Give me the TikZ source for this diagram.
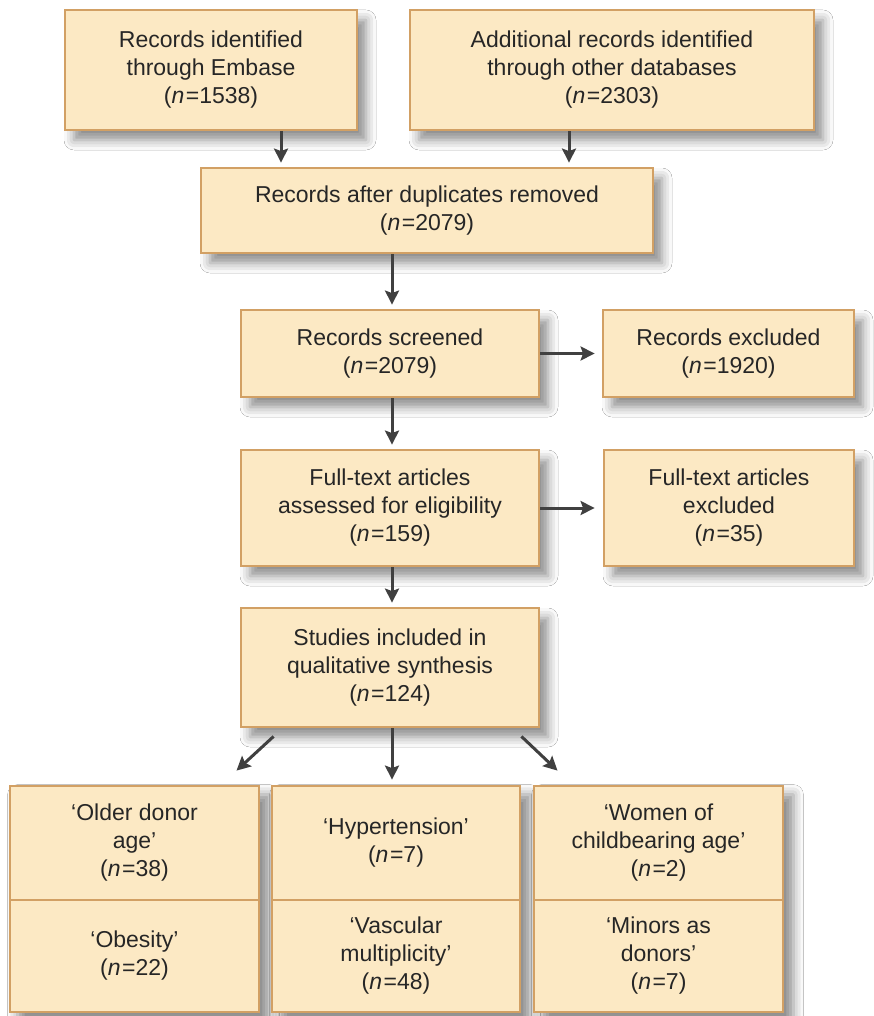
\documentclass[tikz,border=0pt]{standalone}
\usepackage{fontspec}
\setmainfont{Liberation Sans}
\usepackage{tikz}
\usetikzlibrary{arrows.meta,shadows.blur,backgrounds}

\definecolor{boxfill}{RGB}{252,233,196}
\definecolor{boxline}{RGB}{210,160,100}
\definecolor{arrgray}{RGB}{64,64,64}

\newcommand{\nval}[1]{(\textit{n}\kern1.5pt=#1)}

\begin{document}
\begin{tikzpicture}[x=1pt,y=1pt,
    soft shadow/.style={blur shadow={shadow xshift=9pt,shadow yshift=-10pt,shadow blur radius=10pt,shadow opacity=45}},
    cell/.style={draw=boxline,fill=boxfill,line width=2.8pt,align=center,
        inner sep=0pt,font=\fontsize{23}{28}\selectfont,text=black!85},
    box/.style={cell,soft shadow},
    arr/.style={draw=arrgray,line width=3pt,-{Stealth[length=14pt,width=14pt,inset=2.5pt]}}]
        \useasboundingbox (0,0) rectangle (874,-1016);

        % identification
        \node[box,minimum width=292pt,minimum height=120pt] (emb) at (211,-70)
            {Records identified\\through Embase\\\nval{1538}};
        \node[box,minimum width=404pt,minimum height=120pt] (oth) at (612,-70)
            {Additional records identified\\through other databases\\\nval{2303}};
        \node[box,minimum width=452pt,minimum height=85pt] (dup) at (427,-210.5)
            {Records after duplicates removed\\\nval{2079}};

        % screening
        \node[box,minimum width=298pt,minimum height=87pt] (scr) at (390,-353.5)
            {Records screened\\\nval{2079}};
        \node[box,minimum width=251pt,minimum height=87pt] (rex) at (728.5,-353.5)
            {Records excluded\\\nval{1920}};
        \node[box,minimum width=298pt,minimum height=116pt] (ful) at (390,-508)
            {Full-text articles\\assessed for eligibility\\\nval{159}};
        \node[box,minimum width=250pt,minimum height=116pt] (fex) at (729,-508)
            {Full-text articles\\excluded\\\nval{35}};
        \node[box,minimum width=298pt,minimum height=119pt] (inc) at (390,-667.5)
            {Studies included in\\qualitative synthesis\\\nval{124}};

        % themes
        \node[cell,minimum width=249pt,minimum height=114pt] (old) at (134.5,-843)
            {‘Older donor\\age’\\\nval{38}};
        \node[cell,minimum width=249pt,minimum height=112pt] (obe) at (134.5,-956)
            {‘Obesity’\\\nval{22}};
        \node[cell,minimum width=248pt,minimum height=114pt] (hyp) at (396,-843)
            {‘Hypertension’\\\nval{7}};
        \node[cell,minimum width=248pt,minimum height=112pt] (vas) at (396,-956)
            {‘Vascular\\multiplicity’\\\nval{48}};
        \node[cell,minimum width=249pt,minimum height=114pt] (wom) at (658.5,-843)
            {‘Women of\\childbearing age’\\\nval{2}};
        \node[cell,minimum width=249pt,minimum height=112pt] (min) at (658.5,-956)
            {‘Minors as\\donors’\\\nval{7}};

        \begin{scope}[on background layer]
            \fill[white] (0,0) rectangle (874,-1016);
            \path[soft shadow] (old.north west) rectangle (obe.south east);
            \path[soft shadow] (hyp.north west) rectangle (vas.south east);
            \path[soft shadow] (wom.north west) rectangle (min.south east);
        \end{scope}

        % connectors
        \draw[arr,shorten >=4pt] ([xshift=70pt]emb.south) -- ([xshift=70pt]emb.south |- dup.north);
        \draw[arr,shorten >=4pt] ([xshift=-43pt]oth.south) -- ([xshift=-43pt]oth.south |- dup.north);
        \draw[arr,shorten >=4pt] ([xshift=2pt]scr.north |- dup.south) -- ([xshift=2pt]scr.north);
        \draw[arr,shorten >=7pt] (scr.east) -- (rex.west);
        \draw[arr,shorten >=4pt] ([xshift=2pt]ful.north |- scr.south) -- ([xshift=2pt]ful.north);
        \draw[arr,shorten >=8pt] (ful.east) -- (fex.west);
        \draw[arr,shorten >=4pt] ([xshift=2pt]inc.north |- ful.south) -- ([xshift=2pt]inc.north);
        \draw[arr,shorten >=5pt] ([xshift=2pt]inc.south) -- ([xshift=2pt]inc.south |- hyp.north);
        \draw[arr] ([xshift=34pt,yshift=-8pt]inc.south west) -- ([xshift=102pt,yshift=14pt]old.north);
        \draw[arr] ([xshift=-19pt,yshift=-8pt]inc.south east) -- ([xshift=-101pt,yshift=14pt]wom.north);
\end{tikzpicture}
\end{document}
